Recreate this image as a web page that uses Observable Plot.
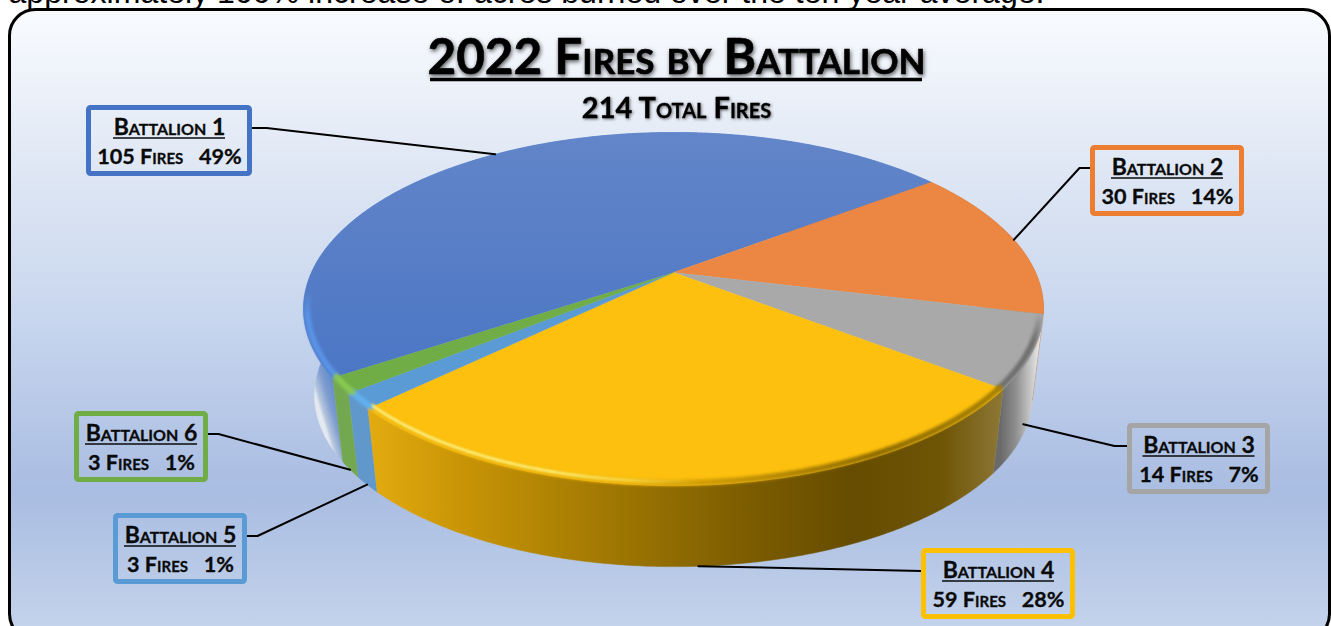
<!DOCTYPE html>
<html>
<head>
<meta charset="utf-8">
<script src="https://cdn.jsdelivr.net/npm/d3@7"></script>
<script src="https://cdn.jsdelivr.net/npm/@observablehq/plot@0.6"></script>
<style>
  html, body { margin: 0; padding: 0; background: #fff; overflow: hidden; }
  svg { display: block; }
  text[aria-label="chart title"] { filter: drop-shadow(1px 2px 2px rgba(0,0,0,.65)); }
  text[aria-label="chart subtitle"] { filter: drop-shadow(1px 1px 1.5px rgba(0,0,0,.55)); }
  path[aria-label="rim"] { filter: blur(1.6px); }
  path[aria-label="glint"] { filter: blur(.9px); }
</style>
</head>
<body>
<script>
// Fires per battalion for 2022
const battalions = ["Battalion 1", "Battalion 2", "Battalion 3", "Battalion 4", "Battalion 5", "Battalion 6"];
const fires = [105, 30, 14, 59, 3, 3];
const percents = [49, 14, 7, 28, 1, 1];
const totalFires = d3.sum(fires);

const titleText = "2022 Fires by Battalion";
const subtitleText = `${totalFires} Total Fires`;
const introText = "approximately 100% increase of acres burned over the ten year average.";

// Slice palette
const faceColors = ["url(#faceBlue)", "#ec8743", "#a9a9a9", "#fdc00e", "#5b9bd5", "#70ad47"];
const wallColors = ["url(#wallBlue)", "#c46d30", "url(#wallGray)", "url(#wallYellow)", "#6198cc", "#74a850"];
const rimColors = ["url(#rimBlue)", "none", "url(#rimGray)", "url(#rimYellow)", "#62b0f0", "#8ac850"];
const boxColors = ["#4472c4", "#ed7d31", "#a5a5a5", "#ffc000", "#5b9bd5", "#70ad47"];

// Callout boxes (outer edges) and leader routing
const boxLeft = [86, 1090, 1127, 921, 113, 74];
const boxRight = [252, 1244, 1270, 1075, 247, 208];
const boxTop = [105, 145, 423, 548, 513, 411];
const boxSide = ["right", "left", "left", "left", "right", "right"];
const elbowRun = [14, 11, 13, 0, 10, 10];
const anchorPlane = [0, 0, 0.85, 1, 1, 1];

// Tilted disc: a circle seen in perspective, with a lower plane for the base
const cx = 673, cy = 272, R = 362, B = 169, k = 0.207;
const baseScale = 0.97, baseCy = 359.4;
const startAngle = 236.5;
// The shoulder only shows along the near side of the disc
const shoulderFrom = 100, shoulderTo = 272;

function project(theta, depth = 0, r = 1) {
  const a = theta * Math.PI / 180;
  const u = r * Math.sin(a), v = -r * Math.cos(a), d = 1 - k * v;
  const s = 1 + (baseScale - 1) * depth;
  const c = cy + (baseCy - cy) * depth;
  return {x: cx + s * R * u / d, y: c + s * B * v / d};
}
function arc(a0, a1, depth = 0, r = 1) {
  const n = Math.ceil(Math.abs(a1 - a0) * 2);
  return d3.range(n + 1).map(i => project(a0 + (a1 - a0) * i / n, depth, r));
}

let running = startAngle;
const slices = battalions.map((name, i) => {
  const a0 = running, a1 = running + fires[i] / totalFires * 360;
  running = a1;
  return {name, i, a0, a1, mid: (a0 + a1) / 2};
});

// Part of a slice's edge that lies on the near side, unwrapped past 360 degrees
const shoulderOf = s => {
  const a0 = s.a0 % 360, a1 = a0 + (s.a1 - s.a0);
  return [Math.max(a0, shoulderFrom), Math.min(a1, shoulderTo)];
};

const labels = slices.map(s => {
  const i = s.i, top = boxTop[i];
  return {
    ...s,
    color: boxColors[i],
    left: boxLeft[i] + 2.5, right: boxRight[i] - 2.5,
    top: top + 2.5, bottom: top + 71 - 2.5,
    center: (boxLeft[i] + boxRight[i]) / 2,
    head: top + 29, under: top + 32.5, line2: top + 58,
    stats: `${fires[i]} Fires\u00a0\u00a0\u00a0${percents[i]}%`
  };
});

const leaders = labels.flatMap(l => {
  const i = l.i;
  const edge = boxSide[i] === "right" ? boxRight[i] : boxLeft[i];
  const dir = boxSide[i] === "right" ? 1 : -1;
  const yy = l.top + 20;
  const pts = [{x: edge, y: yy}];
  if (elbowRun[i]) pts.push({x: edge + dir * elbowRun[i], y: yy});
  pts.push(project(l.mid, anchorPlane[i]));
  return pts.map(p => ({...p, id: i}));
});

const grad = (id, x1, x2, stops, vertical = false) =>
  `<linearGradient id="${id}" gradientUnits="userSpaceOnUse" x1="${vertical ? 0 : x1}" x2="${vertical ? 0 : x2}" y1="${vertical ? x1 : 0}" y2="${vertical ? x2 : 0}">` +
  stops.map(([o, c, a = 1]) => `<stop offset="${o}" stop-color="${c}" stop-opacity="${a}"/>`).join("") +
  `</linearGradient>`;

const paintServers = () => {
  const defs = document.createElementNS("http://www.w3.org/2000/svg", "defs");
  defs.innerHTML = [
    grad("panel", 8, 628, [[0, "#f9fbfe"], [0.3, "#dbe4f3"], [0.5, "#c8d6ee"], [0.78, "#a9bde2"], [1, "#c4d3eb"]], true),
    grad("faceBlue", 132, 390, [[0, "#6385c9"], [1, "#4a76c4"]], true),
    `<linearGradient id="wallBlue" gradientUnits="userSpaceOnUse" x1="309" y1="375" x2="336" y2="367">
       <stop offset="0" stop-color="#e4e9f0"/><stop offset="0.12" stop-color="#b5c5de"/><stop offset="0.4" stop-color="#7f9dcf"/><stop offset="1" stop-color="#4f7fca"/>
     </linearGradient>`,
    grad("wallGray", 1000, 1043, [[0, "#6a6a6a"], [0.35, "#8e8e8e"], [0.8, "#d8d8d8"], [1, "#f2f2f2"]]),
    grad("wallYellow", 372, 1003, [[0, "#e2aa10"], [0.14, "#c99506"], [0.38, "#9f7702"], [0.58, "#7e5e00"], [0.76, "#664c00"], [0.9, "#6e5405"], [1, "#8d7836"]]),
    grad("rimBlue", 290, 345, [[0, "#5a93e6", 0], [0.45, "#5a93e6", 1], [1, "#5a93e6", 1]], true),
    grad("rimGray", 312, 340, [[0, "#6f6f6f", 0], [1, "#6f6f6f", 1]], true),
    grad("rimYellow", 372, 1003, [[0, "#f2b80c"], [0.4, "#eab008"], [0.6, "#c09005"], [0.8, "#8f6c02"], [1, "#a88204"]]),
    grad("glintYellow", 372, 700, [[0, "#fff488", 0.9], [0.55, "#fff27a", 0.95], [0.8, "#fff27a", 0.5], [1, "#fff27a", 0]])
  ].join("");
  return defs;
};

const plot = Plot.plot({
  width: 1331,
  height: 626,
  margin: 0,
  style: {background: "#fff", overflow: "hidden"},
  x: {domain: [0, 1331], range: [0, 1331], axis: null},
  y: {domain: [0, 626], range: [0, 626], axis: null},
  marks: [
    paintServers,
    Plot.text([introText], {x: () => 8, y: () => 2, text: d => d, textAnchor: "start", lineAnchor: "bottom",
      fontFamily: "Liberation Sans", fontSize: 32.1, fill: "#000"}),
    Plot.rect([0], {x1: () => 9.5, x2: () => 1329.5, y1: () => 9.5, y2: () => 640, rx: 26,
      fill: "url(#panel)", stroke: "#000", strokeWidth: 3}),

    // Outer walls, then the slice faces, then the rounded shoulder along the near edge
    ...slices.map(s => Plot.line(
      [...arc(s.a0, s.a1, 0), ...arc(s.a1, s.a0, 1)],
      {x: "x", y: "y", fill: wallColors[s.i], stroke: wallColors[s.i], strokeWidth: 0.5, curve: "linear"})),
    ...slices.map(s => Plot.line(
      [{x: cx, y: cy}, ...arc(s.a0, s.a1, 0)],
      {x: "x", y: "y", fill: faceColors[s.i], stroke: faceColors[s.i], strokeWidth: 0.5, curve: "linear"})),
    ...slices.filter(s => rimColors[s.i] !== "none").map(s => {
      const [from, to] = shoulderOf(s);
      return Plot.line(arc(from, to, 0, 0.99),
        {x: "x", y: "y", stroke: rimColors[s.i], strokeWidth: 6, ariaLabel: () => "rim", curve: "linear"});
    }),
    Plot.line(arc(slices[3].a1, slices[3].mid - 15, 0, 0.985),
      {x: "x", y: "y", stroke: "url(#glintYellow)", strokeWidth: 3, ariaLabel: () => "glint", curve: "linear"}),

    // Leader lines
    Plot.line(leaders, {x: "x", y: "y", z: "id", stroke: "#000", strokeWidth: 2, curve: "linear"}),

    // Callouts
    Plot.rect(labels, {x1: "left", x2: "right", y1: "top", y2: "bottom", fill: "none", stroke: "color", strokeWidth: 5, rx: 2}),
    Plot.text(labels, {x: "center", y: "head", text: "name", lineAnchor: "bottom", fontFamily: "Lato", fontWeight: 700,
      fontSize: 23, fontVariant: "small-caps", fill: "#0a0a0a", stroke: "#0a0a0a", strokeWidth: 0.3}),
    Plot.ruleY(labels, {y: "under", x1: d => d.center - 56, x2: d => d.center + 56, stroke: "#0a0a0a", strokeWidth: 1.5}),
    Plot.text(labels, {x: "center", y: "line2", text: "stats", lineAnchor: "bottom", fontFamily: "Lato", fontWeight: 700,
      fontSize: 21.6, fontVariant: "small-caps", fill: "#0a0a0a", stroke: "#0a0a0a", strokeWidth: 0.3}),

    // Heading
    Plot.text([titleText], {x: () => 676, y: () => 73, text: d => d, lineAnchor: "bottom", fontFamily: "Lato", fontWeight: 700,
      fontSize: 49.5, fontVariant: "small-caps", fill: "#000", stroke: "#000", strokeWidth: 0.6, ariaLabel: () => "chart title"}),
    Plot.ruleY([0], {y: () => 79, x1: () => 430, x2: () => 922, stroke: "#000", strokeWidth: 3.5}),
    Plot.text([subtitleText], {x: () => 676, y: () => 117, text: d => d, lineAnchor: "bottom", fontFamily: "Lato", fontWeight: 700,
      fontSize: 29, fontVariant: "small-caps", fill: "#000", stroke: "#000", strokeWidth: 0.3, ariaLabel: () => "chart subtitle"})
  ]
});
document.body.appendChild(plot);
</script>
</body>
</html>
